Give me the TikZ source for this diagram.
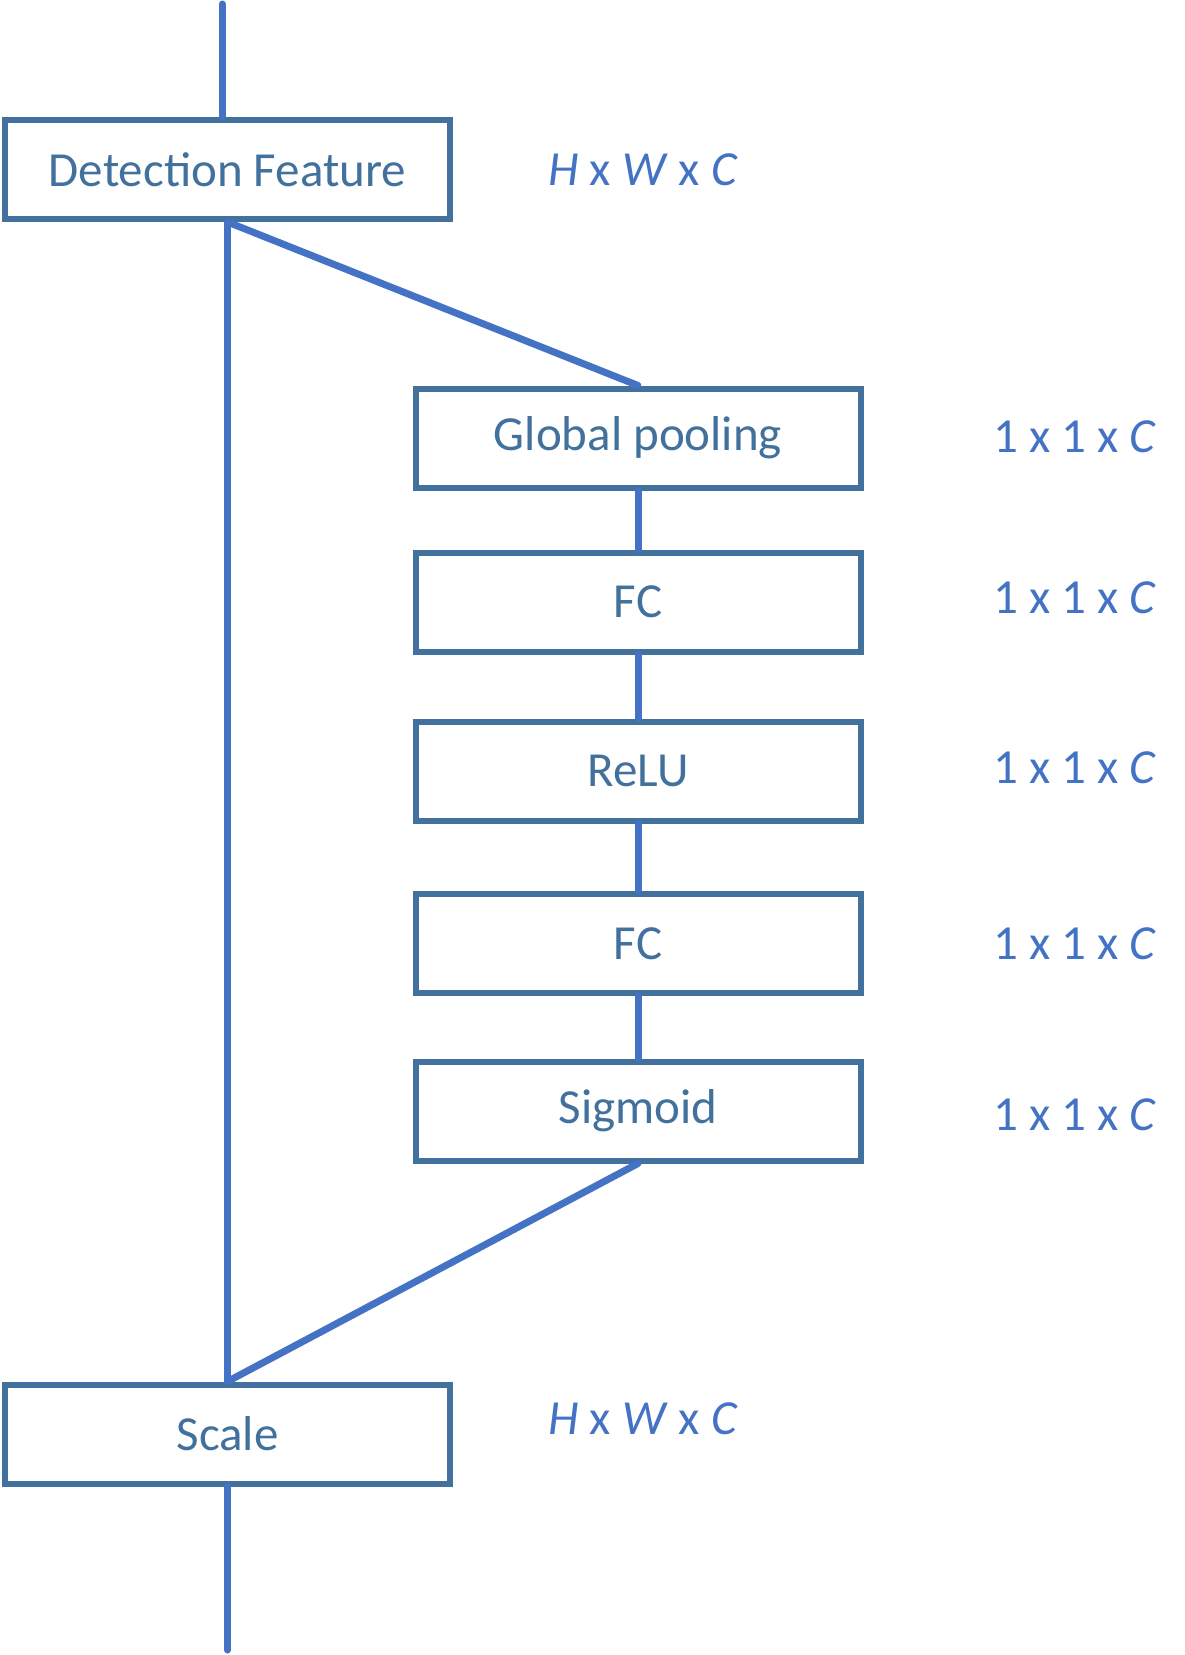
\documentclass[tikz,border=0pt]{standalone}
\usepackage{fontspec}
\setmainfont{Carlito}
\usepackage{tikz}
\usetikzlibrary{positioning}
\usepackage{xcolor}
\definecolor{boxline}{HTML}{41719C}
\definecolor{linkline}{HTML}{4472C4}
\tikzset{
	block/.style={draw=boxline, line width=6pt, fill=white, minimum width=445pt, minimum height=99pt, inner sep=0pt, text=boxline, font=\fontsize{49}{59}\selectfont},
	link/.style={linkline, line width=7pt, line cap=round},
	dims/.style={text=linkline, inner sep=0pt, font=\fontsize{49}{59}\selectfont}
}

\begin{document}
\begin{tikzpicture}[x=1pt, y=-1pt]
				    		\useasboundingbox (0, 0) rectangle (1185, 1655);
				    		\coordinate (in) at (222, 4);
				    		\coordinate (out) at (227.5, 1650);
				    		\node[block] (feat) at (227.5, 169.5) {Detection Feature};
				    		\node[block] (pool) at (638, 438) {Global pooling};
				    		\node[block] (fca) at (638, 602) {FC};
				    		\node[block] (relu) at (638, 771) {ReLU};
				    		\node[block] (fcb) at (638, 943.5) {FC};
				    		\node[block] (sig) at (638, 1111) {Sigmoid};
				    		\node[block] (scale) at (227.5, 1434) {Scale};
				    		\draw[link] (in) -- (in |- feat.north);
				    		\draw[link] (feat.south) -- (scale.north);
				    		\draw[link] (feat.south) -- (pool.north);
				    		\draw[link] (pool.south) -- (fca.north);
				    		\draw[link] (fca.south) -- (relu.north);
				    		\draw[link] (relu.south) -- (fcb.north);
				    		\draw[link] (fcb.south) -- (sig.north);
				    		\draw[link] (sig.south) -- (scale.north);
				    		\draw[link] (scale.south) -- (out);
				    		\node[dims] (dfeat) at (643, 170) {\textit{H} x \textit{W} x \textit{C}};
				    		\node[dims] (dpool) at (1075, 437) {1 x 1 x \textit{C}};
				    		\node[dims] (dfca) at (1075, 598) {1 x 1 x \textit{C}};
				    		\node[dims] (drelu) at (1075, 768) {1 x 1 x \textit{C}};
				    		\node[dims] (dfcb) at (1075, 944) {1 x 1 x \textit{C}};
				    		\node[dims] (dsig) at (1075, 1115) {1 x 1 x \textit{C}};
				    		\node[dims] (dscale) at (643, 1419) {\textit{H} x \textit{W} x \textit{C}};
				    	\end{tikzpicture}
\end{document}
